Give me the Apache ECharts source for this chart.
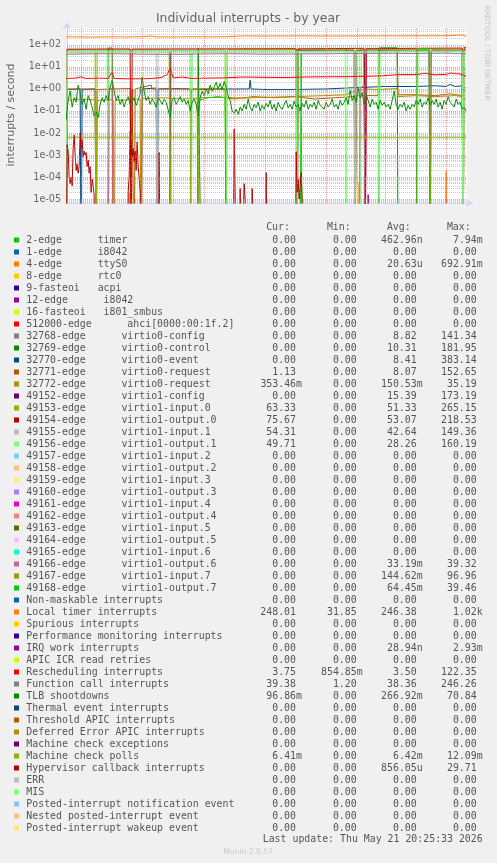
<!DOCTYPE html>
<html><head><meta charset="utf-8">
<script src="https://cdn.jsdelivr.net/npm/echarts@6/dist/echarts.min.js"></script>
<style>html,body{margin:0;padding:0;background:#f0f0f0}#c{width:497px;height:863px}</style>
</head><body><div id="c"></div>
<script>
// ================= DATA =================
const chartTitle = 'Individual interrupts - by year';
const yAxisTitle = 'interrupts / second';
const rangeStart = '2025-04-16 20:25';
const rangeEnd = '2026-05-21 20:25';
const yMin = 6.6e-6, yMax = 590;

const monthTicks = ['2025-05-01','2025-06-01','2025-07-01','2025-08-01','2025-09-01','2025-10-01','2025-11-01','2025-12-01','2026-01-01','2026-02-01','2026-03-01','2026-04-01','2026-05-01'];
const xTickLabels = [['2025-07-16','July 2025'],['2025-10-16','October 2025'],['2026-01-16','January 2026'],['2026-04-16','April 2026']];
const yMajorTicks = [1e-5,1e-4,1e-3,1e-2,1e-1,1,10,100];
const yTickLabels = ['1e-05','1e-04','1e-03','1e-02','1e-01','1e+00','1e+01','1e+02'];
const yMinorTicks = [7e-6,8e-6,9e-6,
 2e-5,3e-5,4e-5,5e-5,6e-5,7e-5,8e-5,9e-5,
 2e-4,3e-4,4e-4,5e-4,6e-4,7e-4,8e-4,9e-4,
 2e-3,3e-3,4e-3,5e-3,6e-3,7e-3,8e-3,9e-3,
 0.02,0.03,0.04,0.05,0.06,0.07,0.08,0.09,
 0.2,0.3,0.4,0.5,0.6,0.7,0.8,0.9,
 2,3,4,5,6,7,8,9,
 20,30,40,50,60,70,80,90,
 200,300,400,500];

// legend table
const legendLabels = ['2-edge      timer','1-edge      i8042','4-edge      ttyS0','8-edge      rtc0','9-fasteoi   acpi','12-edge      i8042','16-fasteoi   i801_smbus','512000-edge      ahci[0000:00:1f.2]','32768-edge      virtio0-config','32769-edge      virtio0-control','32770-edge      virtio0-event','32771-edge      virtio0-request','32772-edge      virtio0-request','49152-edge      virtio1-config','49153-edge      virtio1-input.0','49154-edge      virtio1-output.0','49155-edge      virtio1-input.1','49156-edge      virtio1-output.1','49157-edge      virtio1-input.2','49158-edge      virtio1-output.2','49159-edge      virtio1-input.3','49160-edge      virtio1-output.3','49161-edge      virtio1-input.4','49162-edge      virtio1-output.4','49163-edge      virtio1-input.5','49164-edge      virtio1-output.5','49165-edge      virtio1-input.6','49166-edge      virtio1-output.6','49167-edge      virtio1-input.7','49168-edge      virtio1-output.7','Non-maskable interrupts','Local timer interrupts','Spurious interrupts','Performance monitoring interrupts','IRQ work interrupts','APIC ICR read retries','Rescheduling interrupts','Function call interrupts','TLB shootdowns','Thermal event interrupts','Threshold APIC interrupts','Deferred Error APIC interrupts','Machine check exceptions','Machine check polls','Hypervisor callback interrupts','ERR','MIS','Posted-interrupt notification event','Nested posted-interrupt event','Posted-interrupt wakeup event'];
const legendColors = ['#00CC00','#0066B3','#FF8000','#FFCC00','#330099','#990099','#CCFF00','#FF0000','#808080','#008F00','#00487D','#B35A00','#B38F00','#6B006B','#8FB300','#B30000','#BEBEBE','#80FF80','#80C9FF','#FFC080','#FFE680','#AA80FF','#EE00CC','#FF8080','#666600','#FFBFFF','#00FFCC','#CC6699','#999900','#00CC00','#0066B3','#FF8000','#FFCC00','#330099','#990099','#CCFF00','#FF0000','#808080','#008F00','#00487D','#B35A00','#B38F00','#6B006B','#8FB300','#B30000','#BEBEBE','#80FF80','#80C9FF','#FFC080','#FFE680'];
const legendCur = ['0.00','0.00','0.00','0.00','0.00','0.00','0.00','0.00','0.00','0.00','0.00','1.13','353.46m','0.00','63.33','75.67','54.31','49.71','0.00','0.00','0.00','0.00','0.00','0.00','0.00','0.00','0.00','0.00','0.00','0.00','0.00','248.01','0.00','0.00','0.00','0.00','3.75','39.38','96.86m','0.00','0.00','0.00','0.00','6.41m','0.00','0.00','0.00','0.00','0.00','0.00'];
const legendMin = ['0.00','0.00','0.00','0.00','0.00','0.00','0.00','0.00','0.00','0.00','0.00','0.00','0.00','0.00','0.00','0.00','0.00','0.00','0.00','0.00','0.00','0.00','0.00','0.00','0.00','0.00','0.00','0.00','0.00','0.00','0.00','31.85','0.00','0.00','0.00','0.00','854.85m','1.20','0.00','0.00','0.00','0.00','0.00','0.00','0.00','0.00','0.00','0.00','0.00','0.00'];
const legendAvg = ['462.96n','0.00','20.63u','0.00','0.00','0.00','0.00','0.00','8.82','10.31','8.41','8.07','150.53m','15.39','51.33','53.07','42.64','28.26','0.00','0.00','0.00','0.00','0.00','0.00','0.00','0.00','0.00','33.19m','144.62m','64.45m','0.00','246.38','0.00','0.00','28.94n','0.00','3.50','38.36','266.92m','0.00','0.00','0.00','0.00','6.42m','856.05u','0.00','0.00','0.00','0.00','0.00'];
const legendMax = ['7.94m','0.00','692.91m','0.00','0.00','0.00','0.00','0.00','141.34','181.95','383.14','152.65','35.19','173.19','265.15','218.53','149.36','160.19','0.00','0.00','0.00','0.00','0.00','0.00','0.00','0.00','0.00','39.32','96.96','39.46','0.00','1.02k','0.00','0.00','2.93m','0.00','122.35','246.26','70.84','0.00','0.00','0.00','0.00','12.09m','29.71','0.00','0.00','0.00','0.00','0.00'];
const lastUpdate = 'Last update: Thu May 21 20:25:33 2026';

// ---- series values (interrupts / second) ----
const ttyS0 = [['2025-04-16',0],['2025-06-17',0],['2025-06-18',2e-5],['2025-06-19',0],['2026-02-02',0],['2026-02-03',6e-5],['2026-02-04',0],['2026-04-30',0],['2026-05-01',1.8e-4],['2026-05-02',0],['2026-05-21',0]];
const virtio0Control = [['2025-04-16',0],['2025-05-27',0],['2025-05-28',72],['2025-06-01',72],['2025-06-02',0],['2025-08-25',0],['2025-08-26',70],['2025-08-28',70],['2025-08-29',0],['2026-02-22',0],['2026-02-23',74],['2026-03-13',74],['2026-03-14',0],['2026-05-21',0]];
const virtio0Event = [['2025-04-16',0],['2025-04-17',0.95],['2025-04-30',1.0],['2025-05-01',0],['2025-05-02',0.95],['2025-05-15',1.0],['2025-05-16',0],['2025-06-30',0],['2025-07-01',1.0],['2025-07-15',1.1],['2025-07-16',0],['2025-07-17',1.0],['2025-08-01',1.05],['2025-09-01',0.95],['2025-09-15',1.0],['2025-09-30',1.0],['2025-10-16',1.0],['2025-10-17',2.5],['2025-10-18',1.0],['2025-11-01',0.95],['2025-12-01',0.95],['2026-01-01',1.0],['2026-01-20',1.1],['2026-02-10',1.2],['2026-03-01',1.3],['2026-04-01',1.3],['2026-04-20',1.4],['2026-05-01',1.3],['2026-05-05',1.6],['2026-05-10',1.3],['2026-05-17',1.4],['2026-05-18',0],['2026-05-21',0]];
const virtio0Request1 = [['2025-04-16',0],['2025-04-17',1.0],['2025-05-15',1.0],['2025-05-16',0],['2025-05-17',0.95],['2025-06-01',1.0],['2025-06-19',1.05],['2025-06-20',0],['2025-06-21',1.0],['2025-06-22',1.0],['2025-06-23',0],['2025-06-24',1.0],['2025-07-10',1.5],['2025-07-11',1.0],['2025-08-01',1.0],['2025-09-01',1.0],['2025-09-22',1.0],['2025-09-23',0.4],['2025-10-01',0.35],['2025-10-20',0.45],['2025-11-10',0.4],['2025-12-01',0.45],['2025-12-20',0.35],['2026-01-10',0.4],['2026-01-29',0.45],['2026-01-30',0],['2026-01-31',0.5],['2026-02-08',0.5],['2026-02-09',0],['2026-02-10',0.5],['2026-02-22',0.5],['2026-02-23',62],['2026-03-13',62],['2026-03-14',0.55],['2026-04-01',0.55],['2026-04-20',0.5],['2026-05-05',0.6],['2026-05-17',0.5],['2026-05-18',1.13],['2026-05-21',1.13]];
const virtio0Request2 = [['2025-04-16',0],['2025-04-17',0.3],['2025-05-01',0.35],['2025-05-15',0.32],['2025-05-16',0],['2025-05-17',0.3],['2025-06-02',0.33],['2025-06-03',0],['2025-06-04',0.3],['2025-06-29',0.35],['2025-06-30',0],['2025-07-01',0.36],['2025-07-20',0.4],['2025-08-10',0.35],['2025-08-25',0.38],['2025-08-26',0],['2025-08-27',0.4],['2025-09-22',0.42],['2025-10-10',0.38],['2025-11-01',0.42],['2025-12-01',0.45],['2026-01-01',0.5],['2026-01-20',0.55],['2026-01-30',0.8],['2026-02-10',1.0],['2026-02-22',0.95],['2026-02-23',1.05],['2026-03-13',1.05],['2026-03-14',0.45],['2026-04-01',0.5],['2026-04-20',0.45],['2026-05-10',0.5],['2026-05-17',0.45],['2026-05-18',0.35],['2026-05-21',0.35]];
const virtio1Config = [['2025-04-16',0],['2025-07-28',0],['2025-07-29',50],['2025-07-30',0],['2025-12-03',0],['2025-12-04',56],['2026-01-29',57],['2026-01-30',0],['2026-01-31',56],['2026-02-08',57],['2026-02-09',0],['2026-02-10',57],['2026-04-14',58],['2026-04-15',0],['2026-04-16',57],['2026-05-17',58],['2026-05-18',0],['2026-05-21',0]];
const virtio1Input0 = [['2025-04-16',0],['2025-04-17',58],['2025-05-15',60],['2025-05-16',0],['2025-05-17',59],['2025-07-28',60],['2025-07-29',0],['2025-07-30',58],['2025-09-22',60],['2025-09-23',0],['2025-09-24',61],['2026-01-29',62],['2026-01-30',0],['2026-01-31',61],['2026-04-14',63],['2026-04-15',0],['2026-04-16',62],['2026-05-17',63],['2026-05-18',0],['2026-05-19',63.3],['2026-05-21',63.3]];
const virtio1Output0 = [['2025-04-16',0],['2025-04-17',64],['2025-06-19',66],['2025-06-20',0],['2025-06-21',65],['2025-12-02',68],['2025-12-03',0],['2025-12-04',67],['2026-02-08',70],['2026-02-09',0],['2026-02-10',68],['2026-05-17',72],['2026-05-18',0],['2026-05-19',75.7],['2026-05-21',75.7]];
const virtio1Input1 = [['2025-04-16',0],['2025-04-17',46],['2025-07-15',47],['2025-07-16',0],['2025-07-17',46],['2025-08-18',47],['2025-08-19',0],['2025-08-20',46],['2026-01-29',48],['2026-01-30',0],['2026-01-31',47],['2026-05-17',50],['2026-05-18',0],['2026-05-19',54.3],['2026-05-21',54.3]];
const virtio1Output1 = [['2025-04-16',0],['2025-04-17',52],['2025-05-27',53],['2025-05-28',0],['2025-05-29',52],['2025-08-18',54],['2025-08-19',0],['2025-08-20',53],['2025-09-22',52],['2025-09-23',0],['2025-09-24',54],['2025-12-02',53],['2025-12-03',0],['2025-12-04',52],['2026-01-20',54],['2026-01-21',0],['2026-01-22',53],['2026-02-03',52],['2026-02-04',0],['2026-02-05',53],['2026-02-22',54],['2026-02-23',0],['2026-02-24',52],['2026-04-01',55],['2026-04-02',0],['2026-04-03',53],['2026-05-17',54],['2026-05-18',0],['2026-05-19',49.7],['2026-05-21',49.7]];
const virtio1Output6 = [['2025-04-16',0],['2025-05-28',0],['2025-05-29',1.1],['2025-06-01',1.0],['2025-06-02',0],['2026-02-03',0],['2026-02-04',1.0],['2026-02-08',1.6],['2026-02-09',0],['2026-05-21',0]];
const virtio1Input7 = [['2025-04-16',0],['2025-08-18',0],['2025-08-19',0.9],['2025-08-26',1.0],['2025-09-10',1.1],['2025-09-22',0.9],['2025-09-23',0],['2026-05-21',0]];
const virtio1Output7 = [['2025-04-16',0],['2025-08-25',0],['2025-08-26',0.3],['2025-09-05',0.4],['2025-09-15',0.45],['2025-09-22',0.4],['2025-09-23',0],['2025-12-06',0],['2025-12-07',40],['2025-12-08',0],['2026-04-01',0],['2026-04-02',68],['2026-04-14',68],['2026-04-15',0],['2026-05-21',0]];
const localTimer = [['2025-04-16',235],['2025-05-01',232],['2025-05-15',228],['2025-06-01',236],['2025-06-15',230],['2025-07-01',238],['2025-07-10',255],['2025-07-15',233],['2025-08-01',232],['2025-08-20',236],['2025-09-10',234],['2025-09-22',235],['2025-09-24',262],['2025-10-10',258],['2025-11-01',255],['2025-12-01',258],['2026-01-01',256],['2026-02-01',257],['2026-03-01',258],['2026-04-01',260],['2026-05-01',262],['2026-05-03',285],['2026-05-17',282],['2026-05-19',248],['2026-05-21',248]];
const irqWork = [['2025-04-16',0],['2026-02-11',0],['2026-02-12',1.6e-5],['2026-02-13',0],['2026-05-21',0]];
const rescheduling = [['2025-04-16',3.0],['2025-04-25',3.1],['2025-05-01',3.6],['2025-05-05',3.0],['2025-05-20',3.1],['2025-05-28',3.0],['2025-06-01',6.0],['2025-06-03',3.0],['2025-06-15',2.9],['2025-07-01',2.9],['2025-07-10',3.0],['2025-07-20',3.3],['2025-07-26',4.5],['2025-07-29',9.0],['2025-08-01',3.2],['2025-08-10',3.5],['2025-08-20',3.0],['2025-09-01',3.1],['2025-09-20',3.2],['2025-10-10',3.5],['2025-11-01',3.4],['2025-11-20',3.3],['2025-12-10',3.5],['2026-01-01',3.6],['2026-01-20',3.6],['2026-02-10',3.8],['2026-02-23',3.9],['2026-02-25',4.6],['2026-03-15',4.5],['2026-04-01',4.5],['2026-04-10',5.2],['2026-04-20',4.4],['2026-05-01',4.6],['2026-05-05',5.3],['2026-05-15',4.8],['2026-05-21',3.75]];
const functionCall = [['2025-04-16',38],['2025-05-01',39],['2025-06-01',40],['2025-07-01',38],['2025-08-01',37],['2025-09-01',39],['2025-10-01',40],['2025-11-01',38],['2025-12-01',39],['2026-01-01',40],['2026-02-01',41],['2026-03-01',42],['2026-04-01',41],['2026-05-01',43],['2026-05-21',39.4]];
// TLB shootdowns sampled every 2 days from tlbStart
const tlbStart = '2025-04-16';
const tlbStepDays = 2;
const tlbValues = [
 0.04,0.3,0.8,0.15,0.4,0.25,1.5,0.6,0.2,0.35,0.12,0.5,0.3,0.15,0.06,0.09,0.05,0.2,0.4,0.25,0.5,
 0.3,1.2,2.5,0.8,0.3,0.5,0.2,0.35,0.15,0.3,0.45,0.2,0.25,0.4,0.18,0.3,0.6,3.5,0.8,0.3,
 0.45,0.2,0.35,0.25,0.15,0.4,0.3,0.2,0.35,0.25,0.3,0.05,0.3,0.4,0.2,0.3,0.45,0.25,0.35,0.2,
 0.3,0.1,0.25,0.35,0.2,0.06,0.4,0.8,0.5,1.0,0.6,1.5,0.8,1.2,2.0,1.0,1.8,0.9,2.2,1.2,
 0.5,0.3,0.1,0.08,0.12,0.07,0.15,0.1,0.2,0.12,0.35,0.15,0.1,0.2,0.14,0.25,0.1,0.18,0.12,0.22,
 0.15,0.3,0.12,0.2,0.1,0.25,0.15,0.12,0.2,0.3,0.14,0.2,0.12,0.28,0.15,0.2,0.1,0.22,0.15,0.3,
 0.12,0.2,0.15,0.25,0.12,0.3,0.18,0.2,0.12,0.25,0.15,0.2,0.35,0.15,0.2,0.12,0.3,0.18,0.25,0.4,
 0.2,0.9,0.3,0.5,0.25,1.1,0.4,0.7,0.2,0.6,0.3,0.15,0.35,0.2,0.25,0.12,0.3,0.18,0.25,0.15,
 0.2,0.12,0.3,0.8,0.2,0.12,0.2,0.15,0.25,0.1,0.18,0.12,0.2,0.15,0.3,0.2,0.35,0.15,0.25,0.2,
 0.4,0.18,0.3,0.2,0.35,0.15,0.25,0.12,0.3,0.2,0.45,0.25,0.3,0.15,0.35,0.2,0.25,0.12,0.15,0.1];
const mcPolls = [['2025-04-16',0.0064],['2026-05-21',0.0064]];
const hypervisor = [['2025-04-16',0],['2025-04-17',3e-3],['2025-04-18',1.5e-3],['2025-04-19',1e-4],['2025-04-20',5e-5],['2025-04-21',1e-4],['2025-04-22',4e-5],['2025-04-23',2e-3],['2025-04-24',8e-3],['2025-04-25',1e-3],['2025-04-26',2e-4],['2025-04-27',4e-4],['2025-04-28',1.5e-4],['2025-04-29',3e-4],['2025-04-30',1e-2],['2025-05-01',2e-3],['2025-05-02',5e-3],['2025-05-03',8e-4],['2025-05-04',1.5e-3],['2025-05-05',1e-3],['2025-05-06',1.3e-3],['2025-05-07',3e-4],['2025-05-08',6e-4],['2025-05-09',1.5e-4],['2025-05-10',3e-4],['2025-05-11',2e-5],['2025-05-12',8e-5],['2025-05-13',4e-5],['2025-05-14',1.5e-5],['2025-05-15',0],
['2025-06-16',0],['2025-06-17',2e-5],['2025-06-18',1e-4],['2025-06-19',1.2e-2],['2025-06-20',3e-3],['2025-06-21',8e-4],['2025-06-22',2e-3],['2025-06-23',5e-4],['2025-06-24',1.5e-3],['2025-06-25',2e-4],['2025-06-26',4e-3],['2025-06-27',3e-4],['2025-06-28',1e-4],['2025-06-29',2e-5],['2025-06-30',0],
['2025-07-17',0],['2025-07-18',1.3e-3],['2025-07-19',0],
['2025-09-30',0],['2025-10-01',1.5e-2],['2025-10-02',2e-5],['2025-10-03',0],['2025-10-06',0],['2025-10-07',3e-5],['2025-10-08',0],['2025-10-10',0],['2025-10-11',5e-5],['2025-10-12',1e-5],['2025-10-13',0],['2025-10-18',0],['2025-10-19',3e-5],['2025-10-20',0],
['2025-11-01',0],['2025-11-02',1.6e-4],['2025-11-03',0],
['2025-12-01',0],['2025-12-02',1.4e-3],['2025-12-03',2e-5],['2025-12-04',8e-5],['2025-12-05',1e-5],['2025-12-06',4e-5],['2025-12-07',1.6e-4],['2025-12-08',1e-5],['2025-12-09',0],['2026-05-21',0]];

// ================= BUILD =================
function ts(s){const [d,t]=s.split(' ');const [Y,M,D]=d.split('-').map(Number);let h=0,mi=0;if(t){[h,mi]=t.split(':').map(Number);}return new Date(Y,M-1,D,h,mi).getTime();}
const LOG_FLOOR = 1e-9; // zero cannot sit on a log axis; drawn below the visible range like rrdtool
function pairs(p){return p.map(a=>[ts(a[0]), a[1]>0?a[1]:LOG_FLOOR]);}
const tlbData = tlbValues.map((v,i)=>[ts(tlbStart)+i*tlbStepDays*86400000, v]);

const plotSeries = [
 ['4-edge ttyS0', ttyS0, '#FF8000'],
 ['32769 virtio0-control', virtio0Control, '#008F00'],
 ['32770 virtio0-event', virtio0Event, '#00487D'],
 ['32771 virtio0-request', virtio0Request1, '#B35A00'],
 ['32772 virtio0-request', virtio0Request2, '#B38F00'],
 ['49152 virtio1-config', virtio1Config, '#6B006B'],
 ['49153 virtio1-input.0', virtio1Input0, '#8FB300'],
 ['49154 virtio1-output.0', virtio1Output0, '#B30000'],
 ['49155 virtio1-input.1', virtio1Input1, '#BEBEBE'],
 ['49156 virtio1-output.1', virtio1Output1, '#80FF80'],
 ['49166 virtio1-output.6', virtio1Output6, '#CC6699'],
 ['49167 virtio1-input.7', virtio1Input7, '#999900'],
 ['49168 virtio1-output.7', virtio1Output7, '#00CC00'],
 ['Local timer', localTimer, '#FF8000'],
 ['IRQ work', irqWork, '#990099'],
 ['Rescheduling', rescheduling, '#FF0000'],
 ['Function call', functionCall, '#808080'],
 ['TLB', null, '#008F00'],
 ['MC polls', mcPolls, '#8FB300'],
 ['Hypervisor', hypervisor, '#B30000']
];

const minorStyle = {color:'rgba(150,150,150,0.5)', width:1, type:[1,1]};
const majorStyle = {color:'rgba(233,80,80,0.55)', width:1, type:[1,1]};
const gridLines = [];
yMinorTicks.forEach(v=>gridLines.push({yAxis:v, lineStyle:minorStyle, label:{show:false}}));
yMajorTicks.forEach((v,i)=>gridLines.push({yAxis:v, lineStyle:majorStyle, label:{show:true, position:'start', distance:6, formatter:yTickLabels[i], color:'#666', fontSize:9.6, fontFamily:'DejaVu Sans'}}));
monthTicks.forEach(m=>gridLines.push({xAxis:ts(m), lineStyle:majorStyle, label:{show:false}}));
xTickLabels.forEach(l=>gridLines.push({xAxis:ts(l[0]), lineStyle:{opacity:0}, label:{show:true, position:'start', distance:4, formatter:l[1], color:'#666', fontSize:9.6, fontFamily:'DejaVu Sans'}}));

const series = [{
  type:'line', data:[], z:1, silent:true,
  markLine:{silent:true, symbol:['none','none'], animation:false, precision:10, data:gridLines}
}];
plotSeries.forEach(s=>{
  series.push({type:'line', name:s[0], data: s[1]?pairs(s[1]):tlbData, showSymbol:false, symbol:'none', z:2,
    lineStyle:{width:1, color:s[2]}, itemStyle:{color:s[2]}, animation:false, clip:true});
});

// legend graphic
const charW = 6.02;
const rowY0 = 240, rowH = 12;
const colRight = [302, 362.7, 422.7, 482.7];
const headers = ['Cur:','Min:','Avg:','Max:'];
const mono = 'DejaVu Sans Mono';
const txtColor = '#555';
const graphics = [];
function txt(x,y,s,opt){return Object.assign({type:'text', x, y, silent:true, style:Object.assign({text:s, fill:txtColor, font:'9.9px "'+mono+'"', textAlign:'left', textVerticalAlign:'middle'}, opt||{})});}
headers.forEach((h,i)=>graphics.push(txt(colRight[i]-2*charW, 227.5, h, {textAlign:'right'})));
const cols = [legendCur, legendMin, legendAvg, legendMax];
legendLabels.forEach((lab,i)=>{
  const y = rowY0 + i*rowH;
  graphics.push({type:'rect', shape:{x:14, y:y-2.5, width:5, height:5}, style:{fill:legendColors[i]}, silent:true});
  graphics.push(txt(26.3, y, lab));
  cols.forEach((c,j)=>{
    const v = c[i];
    const suff = /[a-zA-Z]$/.test(v);
    graphics.push(txt(colRight[j] - (suff?0:charW), y, v, {textAlign:'right'}));
  });
});
graphics.push(txt(482.7, 839.5, lastUpdate, {textAlign:'right'}));
graphics.push({type:'text', x:248, y:19, silent:true, style:{text:chartTitle, fill:'#666', font:'12.4px "DejaVu Sans"', textAlign:'center', textVerticalAlign:'middle'}});
graphics.push({type:'text', x:11.5, y:115, rotation:Math.PI/2, silent:true, style:{text:yAxisTitle, fill:'#666', font:'10.9px "DejaVu Sans"', textAlign:'center', textVerticalAlign:'middle'}});
graphics.push({type:'text', x:487, y:53, rotation:-Math.PI/2, silent:true, style:{text:'RRDTOOL / TOBI OETIKER', fill:'#c4c4c4', font:'7.4px "DejaVu Sans"', textAlign:'center', textVerticalAlign:'middle'}});
graphics.push({type:'text', x:248, y:852, silent:true, style:{text:'Munin 2.0.57', fill:'#c8c8c8', font:'7.6px "DejaVu Sans"', textAlign:'center', textVerticalAlign:'middle'}});

const chart = echarts.init(document.getElementById('c'), null, {renderer:'canvas'});
chart.setOption({
  backgroundColor:'#f0f0f0',
  animation:false,
  grid:{left:67, top:28, width:400, height:175, show:true, backgroundColor:'#ffffff', borderWidth:0, containLabel:false},
  xAxis:{type:'time', min:ts(rangeStart), max:ts(rangeEnd),
    axisLine:{show:true, onZero:false, lineStyle:{color:'#CFD6F8', width:1}, symbol:['none','arrow'], symbolSize:[6,7], symbolOffset:[0,6]},
    axisTick:{show:false}, axisLabel:{show:false}, splitLine:{show:false}},
  yAxis:{type:'log', logBase:10, min:yMin, max:yMax,
    axisLine:{show:true, lineStyle:{color:'#CFD6F8', width:1}, symbol:['none','arrow'], symbolSize:[6,7], symbolOffset:[0,6]},
    axisTick:{show:false}, axisLabel:{show:false}, splitLine:{show:false}, minorSplitLine:{show:false}},
  series: series,
  graphic: graphics
});
</script></body></html>
